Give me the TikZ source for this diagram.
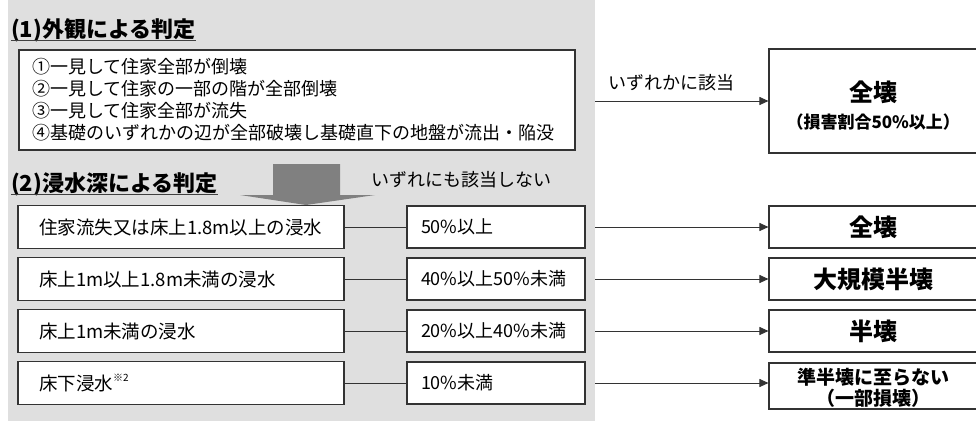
\documentclass[tikz,border=0pt]{standalone}
\usepackage{fontspec}
\setmainfont{Noto Sans CJK JP}
\usetikzlibrary{arrows.meta}

\tikzset{
  box/.style={draw=black!80, line width=1.1pt, fill=white},
  leftbox/.style={box, text width=284pt, inner xsep=21pt, inner ysep=0pt, minimum height=43pt, align=left, font=\fontsize{18.5}{22}\selectfont},
  ratebox/.style={box, text width=150pt, inner xsep=14pt, inner ysep=0pt, minimum height=42pt, align=left, font=\fontsize{18}{22}\selectfont},
  resultbox/.style={box, minimum width=208.5pt, minimum height=42pt, align=center, inner sep=0pt, font=\fontsize{24}{28}\selectfont\bfseries},
  link/.style={draw=black!80, line width=0.9pt},
  flow/.style={link, -{Triangle[length=9pt,width=8pt]}},
  heading/.style={inner sep=0pt, anchor=base west, font=\fontsize{22}{26}\selectfont\bfseries},
  note/.style={inner sep=0pt, font=\fontsize{18}{22}\selectfont},
}

\begin{document}
\begin{tikzpicture}[x=1pt, y=-1pt]

    \useasboundingbox (0,0) rectangle (976,421);

    % Gray panel behind both checks
    \fill[gray!25] (8,0) rectangle (595,421);
    \coordinate (E) at (595,0);

    % (1) Check by appearance
    \node[heading] (h1) at (11,37) {(1)外観による判定};
    \draw[black!75, line width=1pt] ([yshift=-3.5pt]h1.base west) -- ([yshift=-3.5pt]h1.base east);

    \node[box, text width=530pt, inner xsep=13pt, inner ysep=0pt, minimum height=100pt, align=left,
          font=\fontsize{18}{22}\selectfont] (list) at (297,100)
        {①一見して住家全部が倒壊\\
         ②一見して住家の一部の階が全部倒壊\\
         ③一見して住家全部が流失\\
         ④基礎のいずれかの辺が全部破壊し基礎直下の地盤が流出・陥没};

    % Big arrow down to the second check
    \fill[gray] (273,164) -- (340,164) -- (340,195) -- (375,195) -- (306,205)
        -- (240,195) -- (273,195) -- cycle;
    \node[note, anchor=east] (none) at (552,180) {いずれにも該当しない};

    % (2) Check by flood depth
    \node[heading] (h2) at (11,191) {(2)浸水深による判定};
    \draw[black!75, line width=1pt] ([yshift=-3.5pt]h2.base west) -- ([yshift=-3.5pt]h2.base east);

    \node[leftbox] (l1) at (181,227) {住家流失又は床上1.8m以上の浸水};
    \node[leftbox] (l2) at (181,279) {床上1m以上1.8m未満の浸水};
    \node[leftbox] (l3) at (181,331) {床上1m未満の浸水};
    \node[leftbox] (l4) at (181,383) {床下浸水\raisebox{0.45em}{\fontsize{10}{10}\selectfont ※2}};

    \node[ratebox] (m1) at (496,227) {50\%以上};
    \node[ratebox] (m2) at (496,279) {40\%以上50\%未満};
    \node[ratebox] (m3) at (496,331) {20\%以上40\%未満};
    \node[ratebox] (m4) at (496,383) {10\%未満};

    \draw[link] (l1) -- (m1);
    \draw[link] (l2) -- (m2);
    \draw[link] (l3) -- (m3);
    \draw[link] (l4) -- (m4);

    % Results
    \node[resultbox, minimum height=104pt] (res) at (873.25,101) {};
    \node[align=center, inner sep=0pt, font=\fontsize{24}{28}\selectfont\bfseries] (restext) at ([yshift=-5pt]res.center)
        {全壊\\[-1pt]{\fontsize{17}{20}\selectfont （損害割合50\%以上）}};
    \node[resultbox] (r1) at (873.25,227) {全壊};
    \node[resultbox] (r2) at (873.25,279) {大規模半壊};
    \node[resultbox] (r3) at (873.25,331) {半壊};
    \node[resultbox, minimum height=46pt] (r4) at (873.25,386) {};
    \node[align=center, inner sep=0pt, font=\fontsize{19}{21}\selectfont\bfseries] (r4text) at ([yshift=-2pt]r4.center)
        {準半壊に至らない\\（一部損壊）};

    % Arrows to the results
    \draw[flow] (E |- res.west) -- (res.west);
    \node[note] (any) at (671.5,83) {いずれかに該当};
    \draw[flow] (m1.east -| E) -- (m1.east -| r1.west);
    \draw[flow] (m2.east -| E) -- (m2.east -| r2.west);
    \draw[flow] (m3.east -| E) -- (m3.east -| r3.west);
    \draw[flow] (m4.east -| E) -- (m4.east -| r4.west);

\end{tikzpicture}
\end{document}
